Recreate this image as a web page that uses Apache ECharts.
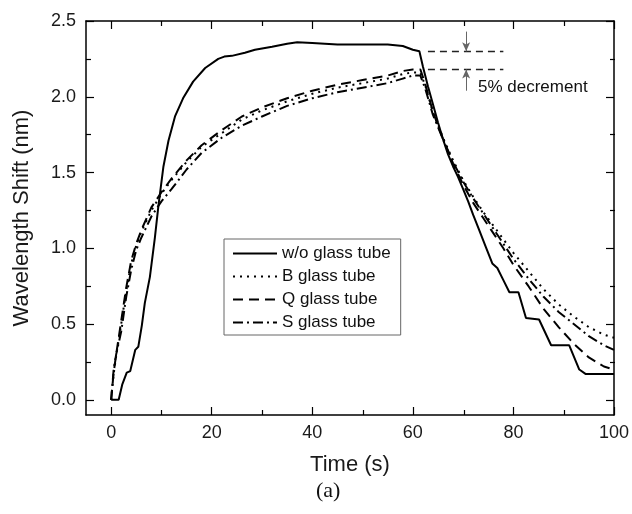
<!DOCTYPE html>
<html>
<head>
<meta charset="utf-8">
<script src="https://cdn.jsdelivr.net/npm/echarts@6/dist/echarts.min.js"></script>
<style>
  html, body { margin: 0; padding: 0; background: #fff; }
  #chart { width: 632px; height: 514px; }
</style>
</head>
<body>
<div id="chart"></div>
<script>
// w/o glass tube (time in s, shift in nm)
const timeSolid = [0, 1.5, 2.2, 3.1, 3.8, 4.8, 5.4, 6.1, 6.7, 7.7, 8.7, 9.4, 10.4, 11.4, 12.7, 14.3, 16.3, 18.7, 21.3, 22.5, 24, 26.6, 28.6, 32, 35, 37, 40, 45, 50, 55, 58, 60, 61.3, 62, 63, 64, 65, 66, 67, 68, 69, 70, 71, 72, 73.2, 74.5, 75.8, 76.8, 78, 79.2, 81, 82.5, 85.1, 87.5, 91.1, 93.1, 94.4, 100]
const shiftSolid = [0, 0, 0.1, 0.18, 0.19, 0.33, 0.35, 0.49, 0.64, 0.81, 1.07, 1.28, 1.54, 1.71, 1.87, 1.99, 2.1, 2.19, 2.25, 2.265, 2.27, 2.29, 2.31, 2.33, 2.35, 2.36, 2.355, 2.345, 2.345, 2.345, 2.335, 2.31, 2.3, 2.2, 2.07, 1.95, 1.83, 1.72, 1.62, 1.54, 1.47, 1.39, 1.31, 1.22, 1.12, 1.01, 0.9, 0.87, 0.79, 0.71, 0.71, 0.54, 0.53, 0.36, 0.36, 0.2, 0.17, 0.17]

// glass tubes share one time base
const timeGlass = [0, 0.5, 1, 2, 3, 4, 5, 6, 8, 10, 12, 15, 18, 22, 26, 30, 35, 40, 45, 50, 55, 58, 60, 61.5, 62.5, 64, 66, 68, 70, 72, 74, 76, 78, 80, 83, 86, 89, 92, 95, 98, 100]
const shiftB = [0, 0.17, 0.29, 0.5, 0.72, 0.9, 1.02, 1.11, 1.25, 1.36, 1.45, 1.57, 1.67, 1.76, 1.85, 1.91, 1.97, 2.02, 2.06, 2.09, 2.12, 2.15, 2.16, 2.16, 2.07, 1.9, 1.73, 1.58, 1.45, 1.34, 1.24, 1.15, 1.06, 0.97, 0.85, 0.73, 0.63, 0.55, 0.48, 0.43, 0.41]
const shiftQ = [0, 0.18, 0.3, 0.52, 0.74, 0.92, 1.03, 1.12, 1.27, 1.37, 1.46, 1.58, 1.68, 1.78, 1.87, 1.93, 1.99, 2.04, 2.08, 2.11, 2.14, 2.17, 2.18, 2.18, 2.08, 1.9, 1.72, 1.56, 1.42, 1.3, 1.2, 1.1, 1.0, 0.89, 0.75, 0.6, 0.48, 0.37, 0.28, 0.22, 0.2]
const shiftS = [0, 0.2, 0.3, 0.45, 0.68, 0.86, 0.99, 1.07, 1.21, 1.31, 1.39, 1.52, 1.63, 1.73, 1.81, 1.87, 1.94, 1.99, 2.03, 2.06, 2.09, 2.12, 2.14, 2.14, 2.05, 1.88, 1.72, 1.57, 1.44, 1.33, 1.23, 1.13, 1.03, 0.93, 0.8, 0.68, 0.58, 0.5, 0.42, 0.36, 0.33]

const seriesNames = ['w/o glass tube', 'B glass tube', 'Q glass tube', 'S glass tube']

// tick positions
const xTicks = [0, 20, 40, 60, 80, 100]
const xMinorTicks = [10, 30, 50, 70, 90]
const yTicks = [0, 0.5, 1.0, 1.5, 2.0, 2.5]
const yMinorTicks = [0.25, 0.75, 1.25, 1.75, 2.25]

// 5% decrement marker
const decLevels = [2.30, 2.18]
const decSpan = [63, 78]
const arrowX = 70.6
const arrowDown = [2.43, 2.30]
const arrowUp = [2.04, 2.18]

const xMin = -5, xMax = 100
const yMin = -0.1, yMax = 2.5

const FONT = 'Liberation Sans'
const box = { left: 86, right: 17, top: 21, bottom: 99 }
const labelStyle = { fontFamily: FONT, fontSize: 18, color: '#1a1a1a' }
const titleStyle = { fontFamily: FONT, fontSize: 22, color: '#1a1a1a' }

const zip = (xs, ys) => xs.map((x, i) => [x, ys[i]])

// one axis of the frame: major ticks + labels, or minor ticks only
const frameAxis = (kind, grid, position, ticks, major, extra) => Object.assign({
  gridIndex: grid,
  type: 'value',
  position,
  min: kind === 'x' ? xMin : yMin,
  max: kind === 'x' ? xMax : yMax,
  axisLine: { show: major, onZero: false, lineStyle: { color: '#000', width: 1.5 } },
  axisTick: { show: true, inside: true, length: major ? 8 : 5, customValues: ticks, lineStyle: { color: '#000', width: 1.2 } },
  axisLabel: { show: false },
  splitLine: { show: false }
}, extra || {})

const lineSeries = (name, data, type) => ({
  name,
  type: 'line',
  xAxisIndex: 0,
  yAxisIndex: 0,
  data,
  symbol: 'none',
  lineStyle: { color: '#000', width: 2, type },
  itemStyle: { color: '#000' },
  z: 3
})

const chart = echarts.init(document.getElementById('chart'), null, { renderer: 'canvas' })

const option = {
  animation: false,
  backgroundColor: '#fff',
  grid: [
    Object.assign({ show: false }, box),
    Object.assign({ show: false }, box)
  ],
  xAxis: [
    frameAxis('x', 0, 'bottom', xTicks, true, {
      axisLabel: Object.assign({ show: true, margin: 9, customValues: xTicks }, labelStyle),
      name: 'Time (s)', nameLocation: 'middle', nameGap: 39,
      nameTextStyle: titleStyle
    }),
    frameAxis('x', 0, 'top', xTicks, true),
    frameAxis('x', 1, 'bottom', xMinorTicks, false),
    frameAxis('x', 1, 'top', xMinorTicks, false)
  ],
  yAxis: [
    frameAxis('y', 0, 'left', yTicks, true, {
      axisLabel: Object.assign({ show: true, margin: 10, customValues: yTicks, formatter: v => v.toFixed(1) }, labelStyle),
      name: 'Wavelength Shift (nm)', nameLocation: 'middle', nameGap: 53,
      nameTextStyle: titleStyle
    }),
    frameAxis('y', 0, 'right', yTicks, true),
    frameAxis('y', 1, 'left', yMinorTicks, false),
    frameAxis('y', 1, 'right', yMinorTicks, false)
  ],
  legend: {
    data: seriesNames,
    orient: 'vertical',
    left: 224,
    top: 239,
    padding: [6, 10, 4, 8],
    itemWidth: 44,
    itemHeight: 14,
    itemGap: 6,
    borderColor: '#666',
    borderWidth: 1,
    backgroundColor: '#fff',
    itemStyle: { color: 'rgba(0,0,0,0)', borderColor: 'rgba(0,0,0,0)', borderWidth: 0, opacity: 0 },
    textStyle: { fontFamily: FONT, fontSize: 17, color: '#111' }
  },
  series: [
    lineSeries(seriesNames[0], zip(timeSolid, shiftSolid), 'solid'),
    lineSeries(seriesNames[1], zip(timeGlass, shiftB), [2, 5]),
    lineSeries(seriesNames[2], zip(timeGlass, shiftQ), [10, 6]),
    lineSeries(seriesNames[3], zip(timeGlass, shiftS), [10, 4, 2, 4]),
    {
      name: 'marker',
      type: 'line',
      xAxisIndex: 0,
      yAxisIndex: 0,
      data: [],
      markLine: {
        silent: true,
        animation: false,
        symbol: 'none',
        label: { show: false },
        data: [
          [{ coord: [decSpan[0], decLevels[0]], lineStyle: { color: '#222', width: 1.3, type: [7, 5] } }, { coord: [decSpan[1], decLevels[0]] }],
          [{ coord: [decSpan[0], decLevels[1]], lineStyle: { color: '#222', width: 1.3, type: [7, 5] } }, { coord: [decSpan[1], decLevels[1]] }],
          [{ coord: [arrowX, arrowDown[0]], symbol: 'none', lineStyle: { color: '#666', width: 1, type: 'solid' } }, { coord: [arrowX, arrowDown[1]], symbol: 'arrow', symbolSize: [6, 9] }],
          [{ coord: [arrowX, arrowUp[0]], symbol: 'none', lineStyle: { color: '#666', width: 1, type: 'solid' } }, { coord: [arrowX, arrowUp[1]], symbol: 'arrow', symbolSize: [6, 9] }]
        ]
      }
    }
  ],
  graphic: [
    { type: 'text', left: 478, top: 79, style: { text: '5% decrement', fontFamily: FONT, fontSize: 17, fill: '#111' } },
    { type: 'text', left: 316, top: 480, style: { text: '(a)', fontFamily: 'Liberation Serif', fontSize: 22, fill: '#111' } }
  ]
}

chart.setOption(option)
</script>
</body>
</html>
